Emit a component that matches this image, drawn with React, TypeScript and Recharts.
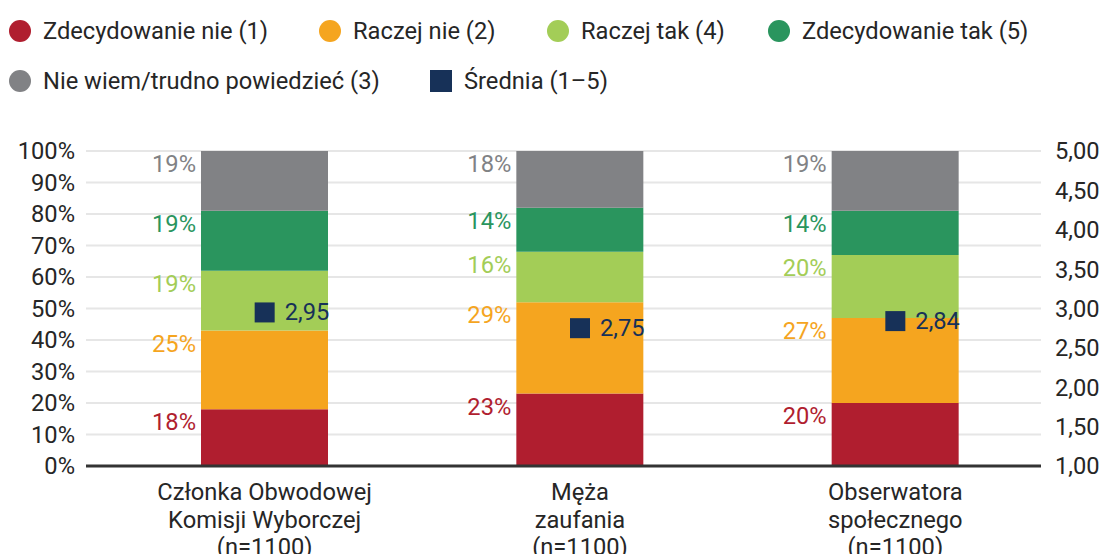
import React from 'react';
import { ComposedChart, Bar, Scatter, XAxis, YAxis, CartesianGrid, Legend, LabelList } from 'recharts';

// categories (x axis, split into lines)
const categoryLines: string[][] = [
    ['Członka Obwodowej', 'Komisji Wyborczej', '(n=1100)'],
    ['Męża', 'zaufania', '(n=1100)'],
    ['Obserwatora', 'społecznego', '(n=1100)'],
];

// series values, percent
const zdecydowanieNie = [18, 23, 20];
const raczejNie = [25, 29, 27];
const raczejTak = [19, 16, 20];
const zdecydowanieTak = [19, 14, 14];
const nieWiem = [19, 18, 19];
// mean on the 1-5 scale
const srednia = [2.95, 2.75, 2.84];

// tick labels
const percentTicks = [0, 10, 20, 30, 40, 50, 60, 70, 80, 90, 100];
const meanTicks = [1, 1.5, 2, 2.5, 3, 3.5, 4, 4.5, 5];

const legendNames = [
    'Zdecydowanie nie (1)',
    'Raczej nie (2)',
    'Raczej tak (4)',
    'Zdecydowanie tak (5)',
    'Nie wiem/trudno powiedzieć (3)',
    'Średnia (1–5)',
];

const RED = '#B01E2F';
const ORANGE = '#F5A51F';
const LIGHT_GREEN = '#A3CD57';
const DARK_GREEN = '#2A955E';
const GREY = '#818285';
const NAVY = '#173158';
const TEXT = '#262626';
const FONT = 'Roboto';
const FS = 23.7;

const legendColors = [RED, ORANGE, LIGHT_GREEN, DARK_GREEN, GREY, NAVY];
// icon centre positions for the two legend rows
const legendPos = [
    { x: 20, y: 31 }, { x: 330, y: 31 }, { x: 558, y: 31 }, { x: 779, y: 31 },
    { x: 20, y: 81 }, { x: 441, y: 81 },
];

const data = categoryLines.map((lines, i) => ({
    name: lines.join('\n'),
    zn: zdecydowanieNie[i],
    rn: raczejNie[i],
    rt: raczejTak[i],
    zt: zdecydowanieTak[i],
    nw: nieWiem[i],
    mean: srednia[i],
}));

const fmtComma = (v: number) => v.toFixed(2).replace('.', ',');

const segLabel = (color: string) => (props: any) => {
    const { x, y, value } = props;
    return (
        <text x={x - 5} y={y + 13} textAnchor="end" dominantBaseline="central"
              fill={color} fontSize={FS} fontFamily={FONT}>
            {value}%
        </text>
    );
};

const CategoryTick = (props: any) => {
    const { x, y, payload } = props;
    const lines = String(payload.value).split('\n');
    return (
        <g>
            {lines.map((l, i) => (
                <text key={i} x={x} y={y + 24 + i * 27.5} textAnchor="middle" dominantBaseline="central"
                      fill={TEXT} fontSize={FS} fontFamily={FONT}>
                    {l}
                </text>
            ))}
        </g>
    );
};

const MeanShape = (props: any) => {
    const { cx, cy, payload } = props;
    return (
        <g>
            <rect x={cx - 10} y={cy - 10} width={20} height={20} fill={NAVY} />
            <text x={cx + 20} y={cy} dominantBaseline="central" fill={NAVY} fontSize={FS} fontFamily={FONT}>
                {fmtComma(payload.mean)}
            </text>
        </g>
    );
};

const CustomLegend = () => (
    <div style={{ position: 'relative', width: 1101, height: 110, fontFamily: FONT, fontSize: FS, color: TEXT }}>
        {legendNames.map((n, i) => {
            const p = legendPos[i];
            const square = i === 5;
            return (
                <div key={n} style={{ position: 'absolute', left: p.x - 11, top: p.y - 15, height: 30,
                                      display: 'flex', alignItems: 'center', whiteSpace: 'nowrap' }}>
                    <span style={{ width: 22, height: 22, background: legendColors[i],
                                   borderRadius: square ? 0 : 11, display: 'inline-block' }} />
                    <span style={{ marginLeft: 12, lineHeight: '30px' }}>{n}</span>
                </div>
            );
        })}
    </div>
);

const App = () => {
    return (
        <div style={{ position: 'absolute', left: 0, top: 0, width: 1101, height: 554, background: '#fff' }}>
            <ComposedChart width={1101} height={554} data={data}
                           margin={{ top: 151, right: 5, bottom: 0, left: 6 }}>
                <CartesianGrid yAxisId="left" vertical={false} stroke="#E6E6E6" strokeWidth={2} />
                <XAxis dataKey="name" height={88} tick={<CategoryTick />} tickLine={false} tickSize={0}
                       axisLine={{ stroke: '#333', strokeWidth: 3 }} interval={0}
                       padding={{ left: 21, right: -12 }} />
                <YAxis yAxisId="left" width={80} domain={[0, 100]} ticks={percentTicks} interval={0}
                       tickFormatter={(v) => `${v}%`} axisLine={false} tickLine={false} tickSize={0}
                       tickMargin={11} tick={{ fill: TEXT, fontSize: FS, fontFamily: FONT }} />
                <YAxis yAxisId="right" orientation="right" width={55} domain={[1, 5]} ticks={meanTicks} interval={0}
                       tickFormatter={fmtComma} axisLine={false} tickLine={false} tickSize={0}
                       tickMargin={14} tick={{ fill: TEXT, fontSize: FS, fontFamily: FONT, textAnchor: 'start' }} />
                <Legend verticalAlign="middle" align="center" layout="horizontal" content={<CustomLegend />}
                        wrapperStyle={{ top: 0, left: 0, width: 1101, height: 110 }} />
                <Bar yAxisId="left" dataKey="zn" stackId="a" fill={RED} barSize={127} isAnimationActive={false}>
                    <LabelList dataKey="zn" content={segLabel(RED)} />
                </Bar>
                <Bar yAxisId="left" dataKey="rn" stackId="a" fill={ORANGE} barSize={127} isAnimationActive={false}>
                    <LabelList dataKey="rn" content={segLabel(ORANGE)} />
                </Bar>
                <Bar yAxisId="left" dataKey="rt" stackId="a" fill={LIGHT_GREEN} barSize={127} isAnimationActive={false}>
                    <LabelList dataKey="rt" content={segLabel(LIGHT_GREEN)} />
                </Bar>
                <Bar yAxisId="left" dataKey="zt" stackId="a" fill={DARK_GREEN} barSize={127} isAnimationActive={false}>
                    <LabelList dataKey="zt" content={segLabel(DARK_GREEN)} />
                </Bar>
                <Bar yAxisId="left" dataKey="nw" stackId="a" fill={GREY} barSize={127} isAnimationActive={false}>
                    <LabelList dataKey="nw" content={segLabel(GREY)} />
                </Bar>
                <Scatter yAxisId="right" dataKey="mean" shape={<MeanShape />} isAnimationActive={false} />
            </ComposedChart>
        </div>
    );
};

export default App;
